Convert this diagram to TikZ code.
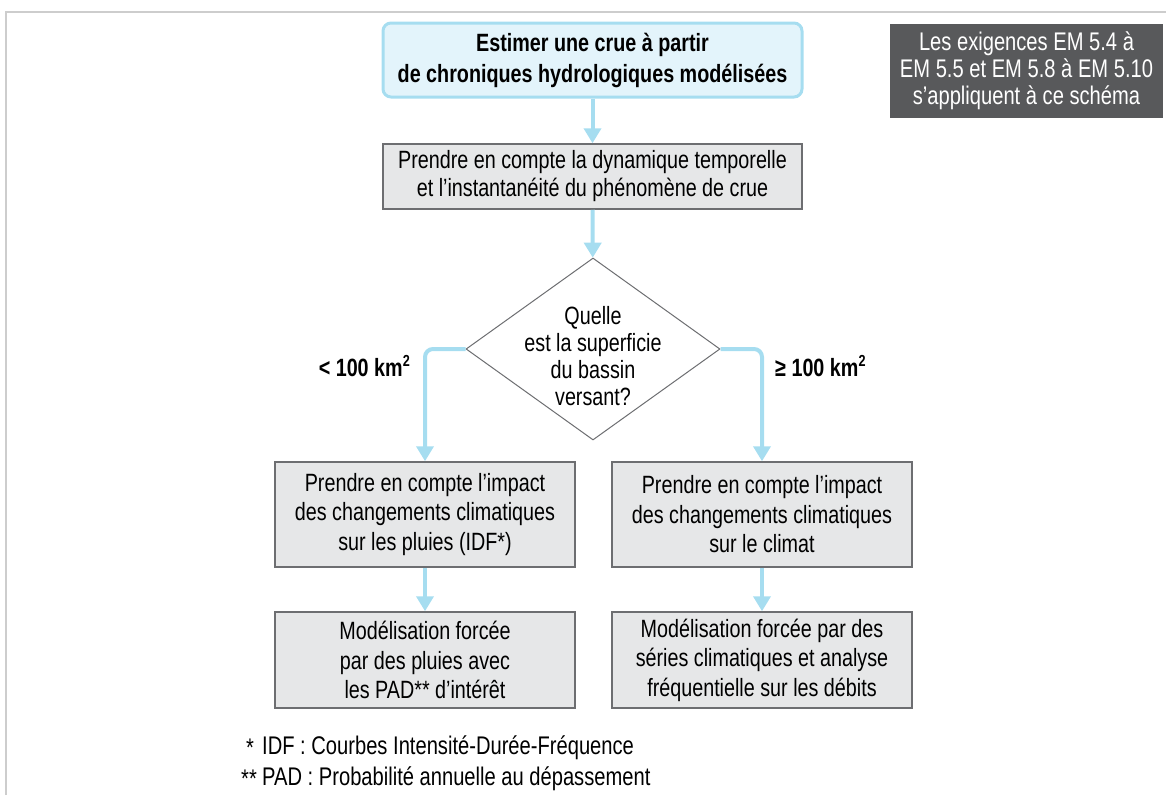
\documentclass[tikz,border=0pt]{standalone}
\usepackage{fontspec}
\setmainfont[FakeStretch=0.79]{Liberation Sans}
\usepackage{tikz}
\usetikzlibrary{arrows.meta, shapes.geometric, positioning}
\definecolor{bleuclair}{HTML}{A6DDF0}
\definecolor{bleufond}{HTML}{E3F4FB}
\definecolor{grisfond}{HTML}{E6E7E8}
\definecolor{grisbord}{HTML}{6D6E71}
\definecolor{grisfonce}{HTML}{58595B}
\definecolor{griscadre}{HTML}{CDCDCD}
\newcommand{\kmcarre}{km\raisebox{0.4em}{\fontsize{16}{16}\selectfont 2}}
\tikzset{
  etape/.style={
    draw=grisbord,
    line width=1.5,
    fill=grisfond,
    align=center,
    inner sep=0,
    font=\fontsize{25}{29.5}\selectfont},
  depart/.style={
    draw=bleuclair,
    line width=3,
    fill=bleufond,
    rounded corners=8,
    align=center,
    inner sep=0,
    font=\fontsize{25}{31}\selectfont\bfseries},
  question/.style={
    diamond,
    draw=grisbord,
    line width=1,
    fill=white,
    inner sep=0},
  questiontexte/.style={
    align=center,
    inner sep=0,
    yshift=-7,
    font=\fontsize{25}{27}\selectfont},
  note/.style={
    fill=grisfonce,
    text=white,
    align=center,
    inner sep=0,
    font=\fontsize{25.5}{27}\selectfont},
  fleche/.style={
    -{Triangle[width=17,length=15]},
    draw=bleuclair,
    line width=4},
  seuil/.style={
    inner sep=0,
    font=\fontsize{25}{27}\selectfont\bfseries},
  renvoi/.style={
    anchor=west,
    inner sep=0,
    font=\fontsize{25.5}{27}\selectfont}
  }
\begin{document}
\begin{tikzpicture}[x=1pt, y=-1pt]
		\useasboundingbox (0,0) rectangle (1166,795);
		\draw [griscadre, line width=2] (6,795) -- (6,12) -- (1166,12);
		\node [depart, minimum width=419, minimum height=74] (crue) at (592.5,60) {Estimer une crue à partir\\de chroniques hydrologiques modélisées};
		\node [etape, minimum width=419, minimum height=65, font=\fontsize{25}{28}\selectfont] (dyn) at (592.5,176.5) {Prendre en compte la dynamique temporelle\\et l’instantanéité du phénomène de crue};
		\node [question, minimum width=254, minimum height=182, label={[questiontexte]center:{Quelle\\est la superficie\\du bassin\\versant?}}] (surf) at (593,349) {};
		\node [etape, minimum width=300, minimum height=105] (pluie) at (425,514.5) {Prendre en compte l’impact\\des changements climatiques\\sur les pluies (IDF*)};
		\node [etape, minimum width=300, minimum height=105] (clim) at (762,514.5) {Prendre en compte l’impact\\des changements climatiques\\sur le climat};
		\node [etape, minimum width=300, minimum height=96] (modp) at (425,660) {Modélisation forcée\\par des pluies avec\\les PAD** d’intérêt};
		\node [etape, minimum width=300, minimum height=96] (modc) at (762,660) {Modélisation forcée par des\\séries climatiques et analyse\\fréquentielle sur les débits};
		\node [note, minimum width=273, minimum height=94] (exig) at (1026.5,71) {Les exigences EM 5.4 à\\EM 5.5 et EM 5.8 à EM 5.10\\s’appliquent à ce schéma};
		\node [seuil, anchor=east] (petit) at (410,366) {< 100 \kmcarre};
		\node [seuil, anchor=west] (grand) at (775,366) {≥ 100 \kmcarre};
		\node [renvoi] (et1) at (246,748) {*};
		\node [renvoi] (idf) at (262,748) {IDF : Courbes Intensité-Durée-Fréquence};
		\node [renvoi] (et2) at (241,779) {**};
		\node [renvoi] (pad) at (262,779) {PAD : Probabilité annuelle au dépassement};
		\draw [fleche] (crue) -- (dyn);
		\draw [fleche] (dyn) -- (surf);
		\draw [fleche, rounded corners=8] (surf.west) -| (pluie.north);
		\draw [fleche, rounded corners=8] (surf.east) -| (clim.north);
		\draw [fleche] (pluie) -- (modp);
		\draw [fleche] (clim) -- (modc);
	\end{tikzpicture}
\end{document}
